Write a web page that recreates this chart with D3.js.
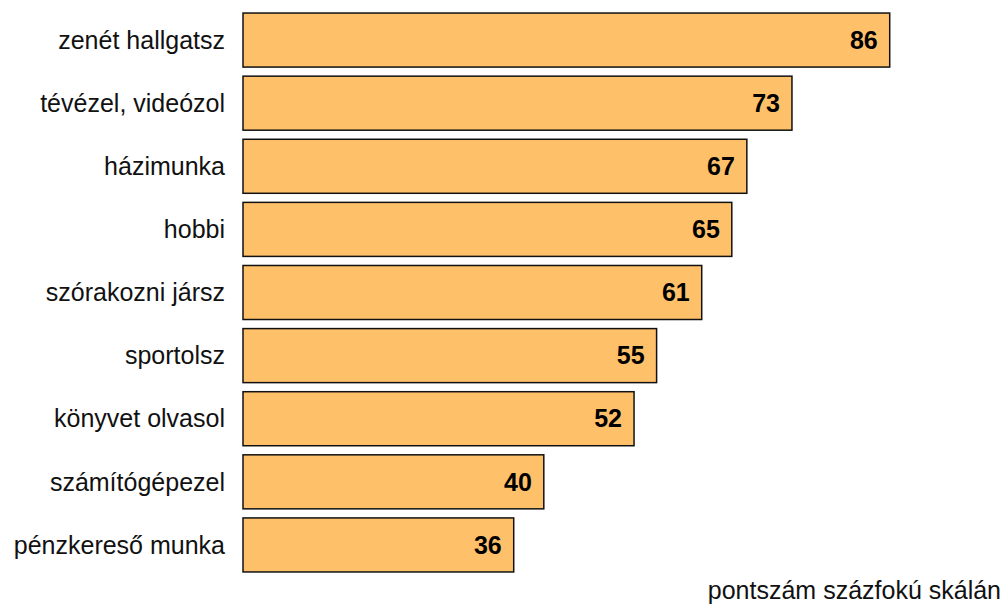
<!DOCTYPE html>
<html>
<head>
<meta charset="utf-8">
<script src="https://cdn.jsdelivr.net/npm/d3@7"></script>
<style>
  body { margin: 0; background: #fff; }
  text { font-family: "Liberation Sans", Arial, sans-serif; }
</style>
</head>
<body>
<div id="chart"></div>
<script>
(function () {
    'use strict';
    var categories = ["zenét hallgatsz", "tévézel, videózol", "házimunka", "hobbi",
            "szórakozni jársz", "sportolsz", "könyvet olvasol", "számítógépezel",
            "pénzkereső munka"],
        values = [86, 73, 67, 65, 61, 55, 52, 40, 36],
        axisNote = "pontszám százfokú skálán",
        width = 1006,
        height = 606,
        data, svg, x, y, rows;

    data = categories.map(function (c, i) { return {name: c, value: values[i]}; });

    x = d3.scaleLinear().domain([0, 100]).range([243, 995]);
    y = d3.scaleBand().domain(categories).range([8.5, 576.5])
        .paddingInner(0.144).paddingOuter(0.072);

    svg = d3.select("#chart").append("svg")
        .attr("width", width)
        .attr("height", height);

    rows = svg.selectAll("g.row")
        .data(data)
        .enter()
        .append("g")
        .attr("class", "row")
        .attr("transform", function (d) { return "translate(0," + y(d.name) + ")"; });

    rows.append("rect")
        .attr("x", x(0))
        .attr("width", function (d) { return x(d.value) - x(0); })
        .attr("height", y.bandwidth())
        .attr("fill", "#ffc06a")
        .attr("stroke", "#111")
        .attr("stroke-width", 1.5);

    rows.append("text")
        .attr("x", 225)
        .attr("y", y.bandwidth() / 2)
        .attr("dy", "0.35em")
        .attr("text-anchor", "end")
        .attr("font-size", 25)
        .attr("fill", "#111")
        .text(function (d) { return d.name; });

    rows.append("text")
        .attr("x", function (d) { return x(d.value) - 12; })
        .attr("y", y.bandwidth() / 2)
        .attr("dy", "0.35em")
        .attr("text-anchor", "end")
        .attr("font-size", 25)
        .attr("font-weight", "bold")
        .attr("fill", "#000")
        .text(function (d) { return d.value; });

    svg.append("text")
        .attr("x", 1001)
        .attr("y", 599)
        .attr("text-anchor", "end")
        .attr("font-size", 25)
        .attr("fill", "#111")
        .text(axisNote);
}());
</script>
</body>
</html>
